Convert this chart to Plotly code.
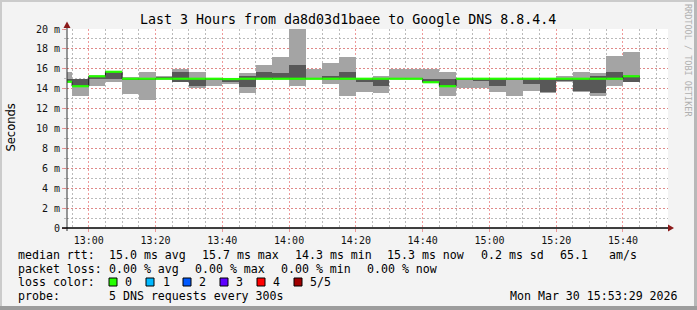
import plotly.graph_objects as go
import pandas as pd

# ---------------- data (ms) ----------------
bin_end = pd.date_range("2026-03-30 12:55:00", periods=35, freq="5min")
# sorted pings per 5-minute bin: p1 (lowest) .. p5 (highest), p3 = median
p1 = [14.65, 13.25, 14.3, 14.7, 13.5, 12.9, 14.95, 14.7, 14.05, 14.3,
      14.5, 13.6, 14.97, 14.95, 14.25, 14.95, 14.5, 13.3, 13.7, 13.6,
      14.97, 14.97, 14.55, 13.3, 14.05, 14.05, 13.7, 13.25, 13.8, 13.6,
      14.7, 13.7, 13.3, 14.3, 14.68]
p2 = [14.66, 14.2, 14.95, 15.0, 14.97, 14.97, 14.97, 14.7, 14.25, 14.95,
      14.7, 14.2, 14.98, 14.97, 14.97, 14.98, 14.95, 14.95, 14.7, 14.27,
      14.98, 14.98, 14.6, 14.2, 14.97, 14.8, 14.27, 14.97, 14.5, 13.62,
      14.75, 13.72, 13.6, 14.97, 14.7]
p3 = [14.7, 14.25, 15.25, 15.7, 15.0, 15.0, 15.0, 15.0, 15.0, 15.0,
      14.97, 15.0, 15.0, 15.0, 15.0, 15.0, 15.0, 15.0, 15.0, 15.0,
      15.0, 15.0, 14.65, 14.25, 15.0, 15.0, 15.0, 15.0, 15.0, 15.0,
      15.0, 15.0, 15.0, 15.0, 15.25]
p4 = [15.0, 15.0, 15.27, 15.72, 15.05, 15.05, 15.2, 15.7, 15.05, 15.0,
      15.0, 15.27, 15.7, 15.6, 16.4, 15.02, 15.25, 15.7, 15.0, 15.0,
      15.02, 15.02, 14.95, 15.0, 15.02, 15.0, 15.0, 15.0, 15.0, 15.0,
      15.0, 15.0, 15.25, 15.7, 15.3]
p5 = [15.7, 15.02, 15.3, 15.75, 15.2, 15.7, 15.25, 16.0, 15.7, 15.02,
      15.02, 15.6, 16.4, 17.2, 21.0, 16.0, 16.6, 17.2, 15.02, 15.25,
      16.0, 16.0, 16.0, 15.7, 15.05, 15.02, 15.02, 15.02, 15.02, 15.02,
      15.25, 15.7, 15.6, 17.3, 17.7]

y_tickvals = list(range(0, 21, 2))
y_ticktext = ["0"] + [f"{v} m" for v in y_tickvals[1:]]

title = "Last 3 Hours from da8d03d1baee to Google DNS 8.8.4.4"
legend_rows = [
    [("median rtt:", 16), ("15.0 ms avg", 107), ("15.7 ms max", 200), ("14.3 ms min", 293),
     ("15.3 ms now", 385), ("0.2 ms sd", 479), ("65.1", 558), ("am/s", 607)],
    [("packet loss:", 16), ("0.00 % avg", 107), ("0.00 % max", 193), ("0.00 % min", 279),
     ("0.00 % now", 365)],
    [("loss color:", 16)],
    [("probe:", 16), ("5 DNS requests every 300s", 107)],
]
loss_labels = ["0", "1", "2", "3", "4", "5/5"]
loss_colors = ["#26ff00", "#00b8ff", "#0059ff", "#5e00ff", "#ff0000", "#a00000"]
stamp = "Mon Mar 30 15:53:29 2026"

# ---------------- geometry ----------------
W, H = 697, 310
L, R, T, B = 67, 668, 29, 228
def X(px):
    return (px - L) / (R - L)
def Y(py):
    return (B - py) / (B - T)

t_start = pd.Timestamp("2026-03-30 12:53:29")
t_end = pd.Timestamp("2026-03-30 15:53:29")
step = pd.Timedelta(minutes=5)
centers = bin_end - step / 2
bin_start = bin_end - step
MS = step.total_seconds() * 1000

fig = go.Figure()
LIGHT, DARK = "#a4a4a4", "#585858"
fig.add_trace(go.Bar(x=centers, y=[b - a for a, b in zip(p1, p5)], base=p1, width=MS,
                     marker=dict(color=LIGHT, line=dict(width=0)), hoverinfo="skip"))
fig.add_trace(go.Bar(x=centers, y=[b - a for a, b in zip(p2, p4)], base=p2, width=MS,
                     marker=dict(color=DARK, line=dict(width=0)), hoverinfo="skip"))
# thin dark median step line
fig.add_trace(go.Scatter(x=list(bin_start) + [bin_end[-1]], y=p3 + [p3[-1]], mode="lines",
                         line=dict(color="#202020", width=1, shape="hv"), hoverinfo="skip"))
# loss-coloured median band: one flat segment per bin
seg_x, seg_y = [], []
for s, e, m in zip(bin_start, bin_end, p3):
    seg_x += [s, e, None]
    seg_y += [m, m, None]
fig.add_trace(go.Scatter(x=seg_x, y=seg_y, mode="lines", connectgaps=False,
                         line=dict(color=loss_colors[0], width=2.2), hoverinfo="skip"))

grid_major = "rgba(235,120,120,0.75)"
grid_minor = "rgba(170,170,170,0.8)"

fig.update_layout(
    width=W, height=H, showlegend=False, barmode="overlay", bargap=0,
    paper_bgcolor="#f3f3f3", plot_bgcolor="#ffffff",
    margin=dict(l=L, r=W - R, t=T, b=H - B, pad=0),
    font=dict(family="DejaVu Sans Mono", size=10, color="#000"),
    xaxis=dict(type="date", range=[t_start, t_end], tick0="2026-03-30 13:00:00",
               dtick=20 * 60 * 1000, tickformat="%H:%M",
               showgrid=True, gridcolor=grid_major, griddash="2px,2px", gridwidth=1,
               ticks="outside", ticklen=3, tickcolor=grid_major,
               tickfont=dict(family="DejaVu Sans Mono", size=10, color="#111"),
               minor=dict(dtick=5 * 60 * 1000, showgrid=True, gridcolor=grid_minor,
                          griddash="2px,2px", gridwidth=1),
               showline=False, zeroline=False, fixedrange=True),
    yaxis=dict(range=[0, 20], tickvals=y_tickvals, ticktext=y_ticktext,
               showgrid=True, gridcolor=grid_major, griddash="2px,2px", gridwidth=1,
               ticks="outside", ticklen=4, tickcolor=grid_major,
               tickfont=dict(family="DejaVu Sans Mono", size=10, color="#111"),
               minor=dict(dtick=1, showgrid=True, gridcolor=grid_minor,
                          griddash="2px,2px", gridwidth=1, ticks="outside", ticklen=2,
                          tickcolor=grid_minor),
               showline=False, zeroline=False, fixedrange=True),
)

shapes = []
# frame shading
shapes.append(dict(type="rect", xref="paper", yref="paper", x0=X(0), x1=X(W), y0=Y(0), y1=Y(2),
                   fillcolor="#cbcbcb", line=dict(width=0), layer="below"))
shapes.append(dict(type="rect", xref="paper", yref="paper", x0=X(0), x1=X(2), y0=Y(0), y1=Y(H),
                   fillcolor="#cbcbcb", line=dict(width=0), layer="below"))
shapes.append(dict(type="rect", xref="paper", yref="paper", x0=X(W - 3), x1=X(W), y0=Y(0), y1=Y(H),
                   fillcolor="#b8b8b8", line=dict(width=0), layer="below"))
shapes.append(dict(type="rect", xref="paper", yref="paper", x0=X(0), x1=X(W), y0=Y(H - 4), y1=Y(H),
                   fillcolor="#9c9c9c", line=dict(width=0), layer="below"))
# axes
shapes.append(dict(type="line", xref="paper", yref="paper", x0=X(67), x1=X(67), y0=Y(231), y1=Y(26),
                   line=dict(color="#303030", width=1)))
shapes.append(dict(type="line", xref="paper", yref="paper", x0=X(62), x1=X(670), y0=Y(228), y1=Y(228),
                   line=dict(color="#000", width=1.3)))
# arrows
shapes.append(dict(type="path", xref="paper", yref="paper",
                   path=f"M {X(63.5)},{Y(28)} L {X(70.5)},{Y(28)} L {X(67)},{Y(21.5)} Z",
                   fillcolor="#8b1a1a", line=dict(width=0)))
shapes.append(dict(type="path", xref="paper", yref="paper",
                   path=f"M {X(668)},{Y(224.5)} L {X(668)},{Y(231.5)} L {X(674)},{Y(228)} Z",
                   fillcolor="#8b1a1a", line=dict(width=0)))

annotations = []
annotations.append(dict(text=title, xref="paper", yref="paper", x=X(348), y=Y(19),
                        xanchor="center", yanchor="middle", showarrow=False,
                        font=dict(family="DejaVu Sans Mono", size=13.3, color="#000")))
annotations.append(dict(text="RRDTOOL / TOBI OETIKER", xref="paper", yref="paper", x=X(688), y=Y(60),
                        xanchor="center", yanchor="middle", showarrow=False, textangle=90,
                        font=dict(family="DejaVu Sans Mono", size=8.5, color="#b0b0b0")))
annotations.append(dict(text="Seconds", xref="paper", yref="paper", x=X(10.5), y=Y(128),
                        xanchor="center", yanchor="middle", showarrow=False, textangle=-90,
                        font=dict(family="DejaVu Sans", size=11.5, color="#000")))
row_y = [254.5, 268.5, 282, 296]
for row, yy in zip(legend_rows, row_y):
    for txt, xx in row:
        annotations.append(dict(text=txt.replace(" ", "&nbsp;"), xref="paper", yref="paper",
                                x=X(xx), y=Y(yy), xanchor="left", yanchor="middle",
                                showarrow=False,
                                font=dict(family="DejaVu Sans Mono", size=11.6, color="#000")))
box_x = [109, 146, 183, 220, 257, 294]
lab_x = [123.3, 160.7, 197.3, 234.3, 271.3, 308.3]
for lbl, col, bx, lx in zip(loss_labels, loss_colors, box_x, lab_x):
    shapes.append(dict(type="rect", xref="paper", yref="paper", x0=X(bx), x1=X(bx + 8),
                       y0=Y(278), y1=Y(286), fillcolor=col, line=dict(color="#000", width=1)))
    annotations.append(dict(text=lbl, xref="paper", yref="paper", x=X(lx), y=Y(282),
                            xanchor="left", yanchor="middle", showarrow=False,
                            font=dict(family="DejaVu Sans Mono", size=11.6, color="#000")))
annotations.append(dict(text=stamp, xref="paper", yref="paper", x=X(680), y=Y(296),
                        xanchor="right", yanchor="middle", showarrow=False,
                        font=dict(family="DejaVu Sans Mono", size=11.6, color="#000")))

fig.update_layout(shapes=shapes, annotations=annotations)
fig.write_html("out.html", config={"displayModeBar": False})
